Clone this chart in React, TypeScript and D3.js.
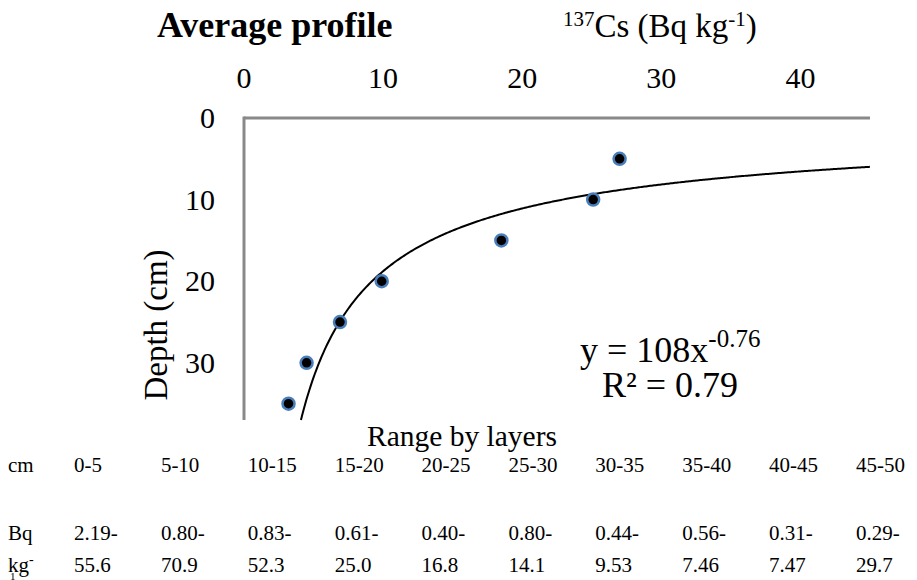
import * as d3 from 'd3';

// 137Cs activity (Bq/kg) vs depth (cm), average profile
const cs137 = [27.0, 25.1, 18.5, 9.9, 6.9, 4.5, 3.2];
const depth = [5, 10, 15, 20, 25, 30, 35];

// power trendline shown on the chart: y = 108 x^-0.76
const fitA = 108;
const fitB = -0.76;

const xTicks = [0, 10, 20, 30, 40];
const yTicks = [0, 10, 20, 30];

const layers = ['0-5', '5-10', '10-15', '15-20', '20-25', '25-30', '30-35', '35-40', '40-45', '45-50'];
const rangeLow = ['2.19-', '0.80-', '0.83-', '0.61-', '0.40-', '0.80-', '0.44-', '0.56-', '0.31-', '0.29-'];
const rangeHigh = ['55.6', '70.9', '52.3', '25.0', '16.8', '14.1', '9.53', '7.46', '7.47', '29.7'];

const W = 917;
const H = 580;
const font = '"Liberation Serif", "Times New Roman", serif';

export default function App() {
  const x = d3.scaleLinear().domain([0, 45]).range([244, 870]);
  const y = d3.scaleLinear().domain([0, 37]).range([118, 420]);

  // trendline, only where it falls inside the plot
  const xStart = Math.pow(37 / fitA, 1 / fitB);
  const fitPts = d3.range(xStart, 45.01, 0.1).map(v => [v, fitA * Math.pow(v, fitB)] as [number, number]);
  const line = d3.line<[number, number]>()
    .x(d => x(d[0]))
    .y(d => y(d[1]));

  const col = d3.scalePoint<string>().domain(layers).range([74, 856]);

  return (
    <svg width={W} height={H} style={{ position: 'absolute', left: 0, top: 0, background: '#fff' }} fontFamily={font}>
      {/* title and x axis title */}
      <text x={157} y={37} fontSize={36} fontWeight="bold">Average profile</text>
      <text x={563} y={37} fontSize={33}>
        <tspan fontSize={21} dy={-11}>137</tspan>
        <tspan dy={11}>Cs (Bq kg</tspan>
        <tspan fontSize={21} dy={-11}>-1</tspan>
        <tspan dy={11}>)</tspan>
      </text>

      {/* top axis labels */}
      {xTicks.map(t => (
        <text key={t} x={x(t)} y={88} fontSize={30} textAnchor="middle">{t}</text>
      ))}
      {/* left axis labels */}
      {yTicks.map(t => (
        <text key={t} x={215} y={y(t) + 10} fontSize={30} textAnchor="end">{t}</text>
      ))}
      <text transform="translate(167,325) rotate(-90)" fontSize={33} textAnchor="middle">Depth (cm)</text>

      {/* axis lines */}
      <line x1={x(0)} x2={x(45)} y1={y(0)} y2={y(0)} stroke="#898989" strokeWidth={3} />
      <line x1={x(0)} x2={x(0)} y1={y(0) - 1.5} y2={y(37)} stroke="#898989" strokeWidth={3} />

      {/* trendline */}
      <path d={line(fitPts) || ''} fill="none" stroke="#000" strokeWidth={2} />

      {/* points */}
      {cs137.map((v, i) => (
        <circle key={i} cx={x(v)} cy={y(depth[i])} r={6} fill="#000" stroke="#4a7ebb" strokeWidth={2.5} />
      ))}

      {/* equation */}
      <text x={580} y={362} fontSize={36}>
        y = 108x<tspan fontSize={25} dy={-15}>-0.76</tspan>
      </text>
      <text x={602} y={397} fontSize={36}>R² = 0.79</text>

      {/* layer table */}
      <text x={462} y={446} fontSize={29.5} textAnchor="middle">Range by layers</text>
      <text x={8} y={472} fontSize={21}>cm</text>
      <text x={8} y={540} fontSize={21}>Bq</text>
      <text x={8} y={572} fontSize={21}>kg<tspan fontSize={14} dy={-8}>-</tspan></text>
      <text x={10} y={580} fontSize={11}>1</text>
      {layers.map((l, i) => (
        <g key={l} fontSize={21}>
          <text x={col(l)} y={472}>{l}</text>
          <text x={col(l)} y={540}>{rangeLow[i]}</text>
          <text x={col(l)} y={572}>{rangeHigh[i]}</text>
        </g>
      ))}
    </svg>
  );
}
